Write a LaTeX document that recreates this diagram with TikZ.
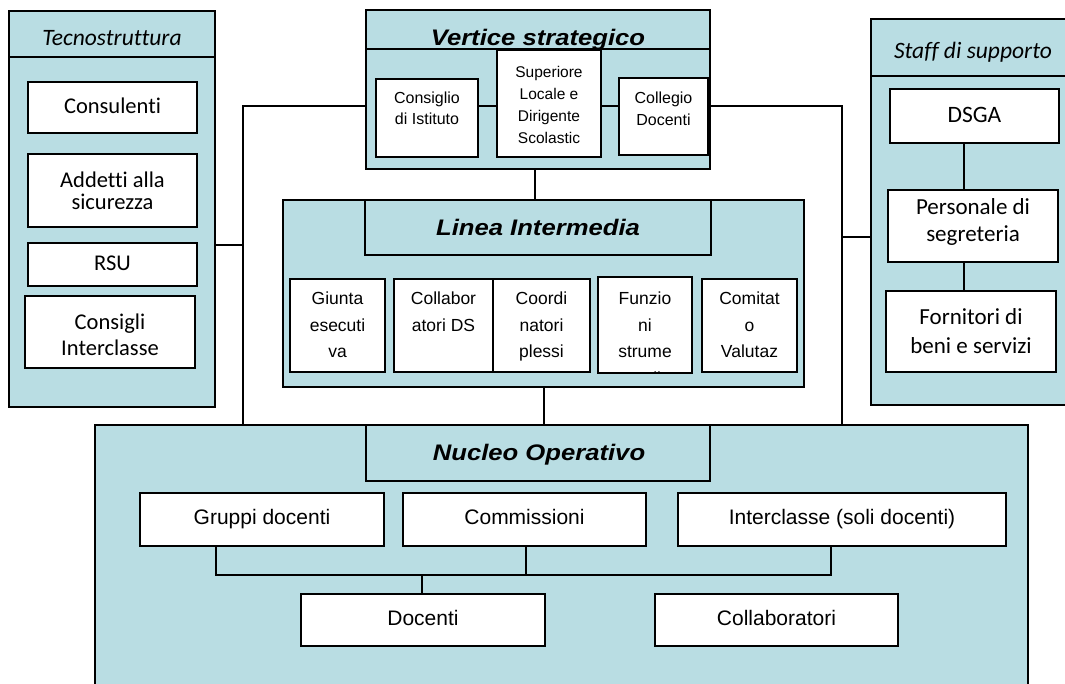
\documentclass[tikz,border=0pt]{standalone}
\usepackage{fontspec}
\setmainfont{Liberation Sans}
\newfontfamily\ttlfont[FakeStretch=1.14]{Liberation Sans}
\newfontfamily\calfont[Ligatures={NoCommon}]{Carlito}
\definecolor{panel}{RGB}{185,221,227}
\newcommand\bx[6][wbox]{\node[#1, minimum width={#5-#3}, minimum height={#6-#4}] (#2) at ({(#3+#5)/2},{(#4+#6)/2}) {};}
\begin{document}
\begin{tikzpicture}[x=1pt,y=-1pt,
  panelbox/.style={draw=black, line width=1.8pt, fill=panel, inner sep=0pt, outer sep=0pt},
  wbox/.style={draw=black, line width=1.8pt, fill=white, inner sep=0pt, outer sep=0pt},
  conn/.style={draw=black, line width=2.7pt},
  lbl/.style={inner sep=0pt, align=center},
  ttl/.style={inner sep=0pt, anchor=base, font=\ttlfont\bfseries\itshape\fontsize{22.5}{27}\selectfont},
  calhdr/.style={inner sep=0pt, anchor=base, font=\calfont\itshape\fontsize{23.5}{27}\selectfont},
  tectxt/.style={lbl, font=\calfont\fontsize{22.5}{24}\selectfont},
  stftxt/.style={lbl, font=\calfont\fontsize{23.5}{28}\selectfont},
  vtxt/.style={lbl, anchor=north, font=\fontsize{16}{21}\selectfont},
  ltxt/.style={lbl, anchor=north, font=\fontsize{17.5}{26.5}\selectfont},
  ntxt/.style={lbl, text height=15pt, text depth=4.5pt, font=\fontsize{21}{25}\selectfont}]
\useasboundingbox (0,0) rectangle (1065,683);

% ---------- named junction coordinates ----------
\coordinate (lt) at (243,106);
\coordinate (lj) at (243,245);
\coordinate (rt) at (842,106);
\coordinate (rj) at (842,237);
\coordinate (cv) at (535,185);
\coordinate (cn) at (544,405);
\coordinate (cs) at (964,200);
\coordinate (bx1) at (216,575);
\coordinate (bx2) at (526,575);
\coordinate (bx3) at (831,575);
\coordinate (bx4) at (422,575);

% ---------- Tecnostruttura ----------
\bx[panelbox]{tecno}{9}{11}{215}{407}
\bx[panelbox]{tecnoh}{9}{11}{215}{57}
\node[calhdr] (tecnot) at (112,45) {Tecnostruttura};
\bx{cons}{28}{82}{197}{133}
\node[tectxt, text height=15pt, text depth=4pt] (const) at (cons) {Consulenti};
\bx{add}{28}{154}{197}{227}
\node[tectxt, font=\calfont\fontsize{22.5}{22}\selectfont] (addt) at (add) {Addetti alla\\sicurezza};
\bx{rsu}{28}{243}{197}{286}
\node[tectxt, text height=15pt, text depth=4pt] (rsut) at (rsu) {RSU};
\bx{cic}{25}{296}{195}{368}
\node[tectxt, font=\calfont\fontsize{22.5}{26}\selectfont] (cict) at ([yshift=-3]cic.center) {Consigli\\Interclasse};

% ---------- Staff di supporto ----------
\bx[panelbox]{staff}{871}{19}{1076}{405}
\bx[panelbox]{staffh}{871}{19}{1076}{76}
\node[calhdr] (stafft) at (973,58) {Staff di supporto};
\bx{dsga}{890}{89}{1059}{143}
\node[stftxt, text height=16pt, text depth=4pt] (dsgat) at (dsga) {DSGA};
\bx{pers}{888}{190}{1058}{262}
\node[stftxt, font=\calfont\fontsize{23}{27}\selectfont] (perst) at ([yshift=4]pers.center) {Personale di\\segreteria};
\bx{forn}{886}{291}{1056}{372}
\node[stftxt, font=\calfont\fontsize{23}{29}\selectfont] (fornt) at (forn) {Fornitori di\\beni e servizi};

% ---------- Vertice strategico ----------
\bx[panelbox]{vertice}{366}{10}{710}{169}
\bx[panelbox]{verticeh}{366}{10}{710}{49}
\node[ttl] (verticet) at (538,45) {Vertice strategico};
\bx{consi}{376}{79}{478}{157}
\node[vtxt] (consit) at ([yshift=-13]consi.north) {Consiglio\\di Istituto};
\bx{sup}{497}{50}{601}{157}
\node[vtxt, font=\fontsize{15.5}{22}\selectfont] (supt) at ([yshift=-16]sup.north) {Superiore\\Locale e\\Dirigente\\Scolastic};
\bx{coll}{619}{78}{708}{155}
\node[vtxt, font=\fontsize{16}{22}\selectfont] (collt) at ([yshift=-14]coll.north) {Collegio\\Docenti};

% ---------- Linea Intermedia ----------
\bx[panelbox]{linea}{283}{200}{804}{387}
\bx[panelbox]{lineah}{365}{200}{711}{255}
\node[ttl] (lineat) at (538,235) {Linea Intermedia};
\bx{giu}{290}{279}{385}{372}
\node[ltxt] (giut) at ([yshift=-13]giu.north) {Giunta\\esecuti\\va};
\bx{cdb}{394}{279}{493}{372}
\node[ltxt] (cdbt) at ([yshift=-13]cdb.north) {Collabor\\atori DS};
\bx{cdn}{493}{279}{590}{372}
\node[ltxt] (cdnt) at ([yshift=-13]cdn.north) {Coordi\\natori\\plessi};
\bx{fun}{598}{277}{692}{373}
\begin{scope}
  \clip (599,278) rectangle (691,372);
  \node[ltxt] (funt) at ([yshift=-15]fun.north) {Funzio\\ni\\strume\\ntali};
\end{scope}
\bx{com}{702}{279}{797}{372}
\node[ltxt] (comt) at ([yshift=-13]com.north) {Comitat\\o\\Valutaz};

% ---------- Nucleo Operativo ----------
\bx[panelbox]{nucleo}{95}{425}{1028}{686}
\bx[panelbox]{nucleoh}{366}{425}{710}{481}
\node[ttl] (nucleot) at (539,460) {Nucleo Operativo};
\bx{grp}{140}{493}{384}{546}
\node[ntxt] (grpt) at (grp) {Gruppi docenti};
\bx{cmm}{403}{493}{646}{546}
\node[ntxt] (cmmt) at (cmm) {Commissioni};
\bx{int}{678}{493}{1006}{546}
\node[ntxt] (intt) at (int) {Interclasse (soli docenti)};
\bx{doc}{301}{594}{545}{646}
\node[ntxt] (doct) at (doc) {Docenti};
\bx{clb}{655}{594}{898}{646}
\node[ntxt] (clbt) at (clb) {Collaboratori};

% ---------- connectors ----------
\draw[conn] (tecno.east |- lj) -- (lj);
\draw[conn] (vertice.west |- lt) -- (lt) -- (lt |- nucleo.north);
\draw[conn] (vertice.east |- rt) -- (rt) -- (rt |- nucleo.north);
\draw[conn] (staff.west |- rj) -- (rj);
\draw[conn] (consi.east |- lt) -- (sup.west |- lt);
\draw[conn] (sup.east |- lt) -- (coll.west |- lt);
\draw[conn] (vertice.south -| cv) -- (linea.north -| cv);
\draw[conn] (linea.south -| cn) -- (nucleo.north -| cn);
\draw[conn] (dsga.south -| cs) -- (pers.north -| cs);
\draw[conn] (pers.south -| cs) -- (forn.north -| cs);
\draw[conn] (grp.south -| bx1) -- (bx1) -- (bx3) -- (int.south -| bx3);
\draw[conn] (cmm.south -| bx2) -- (bx2);
\draw[conn] (bx4) -- (doc.north -| bx4);
\end{tikzpicture}
\end{document}
